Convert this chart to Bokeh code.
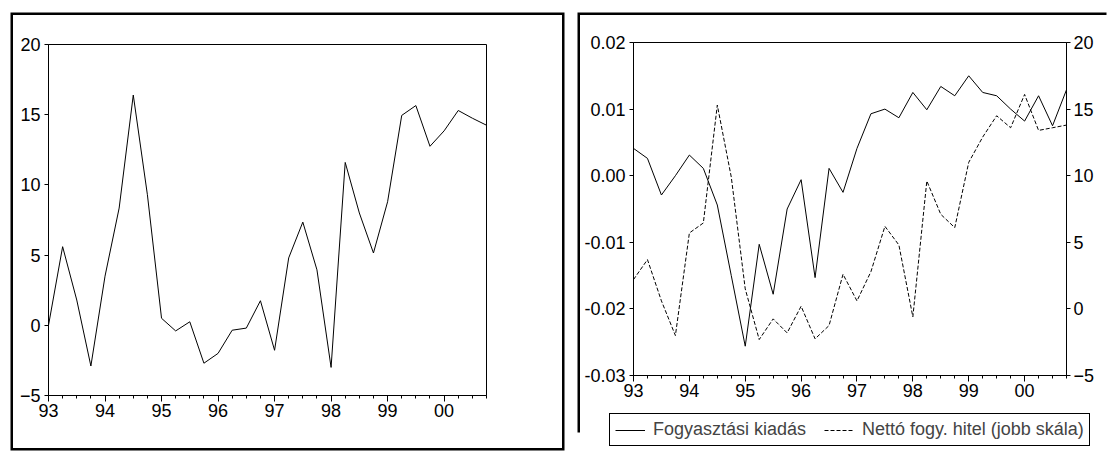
from bokeh.plotting import figure
from bokeh.models import (Range1d, LinearAxis, FixedTicker, NumeralTickFormatter,
                          Legend, LegendItem)
from bokeh.embed import file_html
from bokeh.resources import INLINE

# ---- data (quarterly, 1993Q1 .. 2000Q4) ----
years = [1993, 1994, 1995, 1996, 1997, 1998, 1999, 2000]
year_labels = ["93", "94", "95", "96", "97", "98", "99", "00"]
quarters = [1, 2, 3, 4]

left_series = [0.0, 5.6, 1.8, -2.9, 3.5, 8.35, 16.4, 9.3,
               0.5, -0.4, 0.25, -2.7, -2.0, -0.35, -0.2, 1.75,
               -1.78, 4.8, 7.35, 3.95, -3.0, 11.6, 8.0, 5.15,
               8.8, 14.95, 15.65, 12.75, 13.85, 15.3, 14.75, 14.25]

fogy_kiadas = [0.0041, 0.0026, -0.0029, 0.0000, 0.0031, 0.0011, -0.0044, -0.0150,
               -0.0256, -0.0103, -0.0178, -0.0050, -0.0006, -0.0153, 0.0011, -0.0025,
               0.0041, 0.0093, 0.0100, 0.0087, 0.0125, 0.0099, 0.0134, 0.0120,
               0.0150, 0.0125, 0.0120, 0.0100, 0.0082, 0.0120, 0.0075, 0.0129]

netto_hitel = [2.2, 3.7, 0.6, -2.0, 5.7, 6.45, 15.3, 9.9,
               1.5, -2.3, -0.75, -1.8, 0.2, -2.25, -1.25, 2.6,
               0.6, 2.8, 6.2, 4.8, -0.6, 9.6, 7.1, 6.1,
               11.0, 12.9, 14.5, 13.6, 16.1, 13.4, 13.6, 13.8]

left_ticks = [-5, 0, 5, 10, 15, 20]
right_left_ticks = [-0.03, -0.02, -0.01, 0.00, 0.01, 0.02]
right_right_ticks = [-5, 0, 5, 10, 15, 20]

legend_labels = ["Fogyasztási kiadás", "Nettó fogy. hitel (jobb skála)"]

# ---- derived positions ----
x = [y + (q - 1) / 4 for y in years for q in quarters]
minor = list(x)
x_end = years[-1] + 0.75

FONT = "Liberation Sans"
FS = "18px"


def style_axis(ax):
    ax.axis_line_color = "black"
    ax.major_tick_line_color = "black"
    ax.minor_tick_line_color = "black"
    ax.major_tick_in = 0
    ax.minor_tick_in = 0
    ax.major_label_text_font = FONT
    ax.major_label_text_font_size = FS
    ax.major_label_text_color = "black"


def base_fig(width, height, yr, bl, br, bt, bb, styles):
    p = figure(width=width, height=height, x_range=Range1d(years[0], x_end), y_range=yr,
               output_backend="svg", toolbar_location=None, margin=0,
               min_border_left=bl, min_border_right=br, min_border_top=bt, min_border_bottom=bb,
               styles=styles)
    p.xgrid.visible = False
    p.ygrid.visible = False
    p.outline_line_color = "black"
    p.outline_line_alpha = 1
    ax = p.xaxis[0]
    ax.ticker = FixedTicker(ticks=years, minor_ticks=minor)
    ax.major_label_overrides = {y: l for y, l in zip(years, year_labels)}
    style_axis(ax)
    ax.major_tick_out = 6
    ax.minor_tick_out = 3
    ax.major_label_standoff = 2
    return p


# ---- left panel (host at page 13,15) ----
left = base_fig(549, 433, Range1d(-5, 20), 35, 76, 29, 53,
                {"position": "absolute", "left": "13px", "top": "15px",
                 "box-shadow": "0 0 0 2.5px black"})
ya = left.yaxis[0]
ya.ticker = FixedTicker(ticks=left_ticks)
style_axis(ya)
ya.major_tick_out = 4
ya.major_label_standoff = 4
left.line(x, left_series, line_color="black", line_width=1)

# ---- right panel (host at page 580,15) ----
right = base_fig(529, 420, Range1d(-0.03, 0.02), 53, 43, 27, 60,
                 {"position": "absolute", "left": "580px", "top": "15px",
                  "box-shadow": "-2.5px -2.5px 0 0 black"})
right.extra_y_ranges = {"r": Range1d(-5, 20)}
yl = right.yaxis[0]
yl.ticker = FixedTicker(ticks=right_left_ticks)
yl.formatter = NumeralTickFormatter(format="0.00")
style_axis(yl)
yl.major_tick_out = 4
yl.major_label_standoff = 4
yr_ax = LinearAxis(y_range_name="r", ticker=FixedTicker(ticks=right_right_ticks))
style_axis(yr_ax)
yr_ax.major_tick_out = 4
yr_ax.major_label_standoff = 3
right.add_layout(yr_ax, "right")

right.line(x, fogy_kiadas, line_color="black", line_width=1)
right.line(x, netto_hitel, y_range_name="r", line_color="black", line_width=1,
           line_dash="4 2")

# ---- legend strip (host at page 608,412; series lie outside its range) ----
lf = figure(width=490, height=38, x_range=Range1d(0, 1), y_range=Range1d(0, 1),
            output_backend="svg", toolbar_location=None, margin=0,
            x_axis_location=None, y_axis_location=None,
            min_border_left=0, min_border_right=0, min_border_top=0, min_border_bottom=0,
            background_fill_alpha=0, border_fill_alpha=0,
            styles={"position": "absolute", "left": "608px", "top": "412px"})
lf.xgrid.visible = False
lf.ygrid.visible = False
lf.outline_line_color = None
lr1 = lf.line(x, fogy_kiadas, line_color="black", line_width=1)
lr2 = lf.line(x, netto_hitel, line_color="black", line_width=1, line_dash="4 2")
legend = Legend(items=[LegendItem(label=legend_labels[0], renderers=[lr1]),
                       LegendItem(label=legend_labels[1], renderers=[lr2])],
                orientation="horizontal", location="top_left", margin=1,
                label_text_font=FONT, label_text_font_size=FS,
                glyph_width=30, glyph_height=16, label_standoff=8, spacing=18,
                padding=5, border_line_color="black", border_line_width=1,
                border_line_alpha=1, background_fill_color="white",
                background_fill_alpha=1)
lf.add_layout(legend)

open("out.html", "w").write(file_html([left, right, lf], INLINE))
